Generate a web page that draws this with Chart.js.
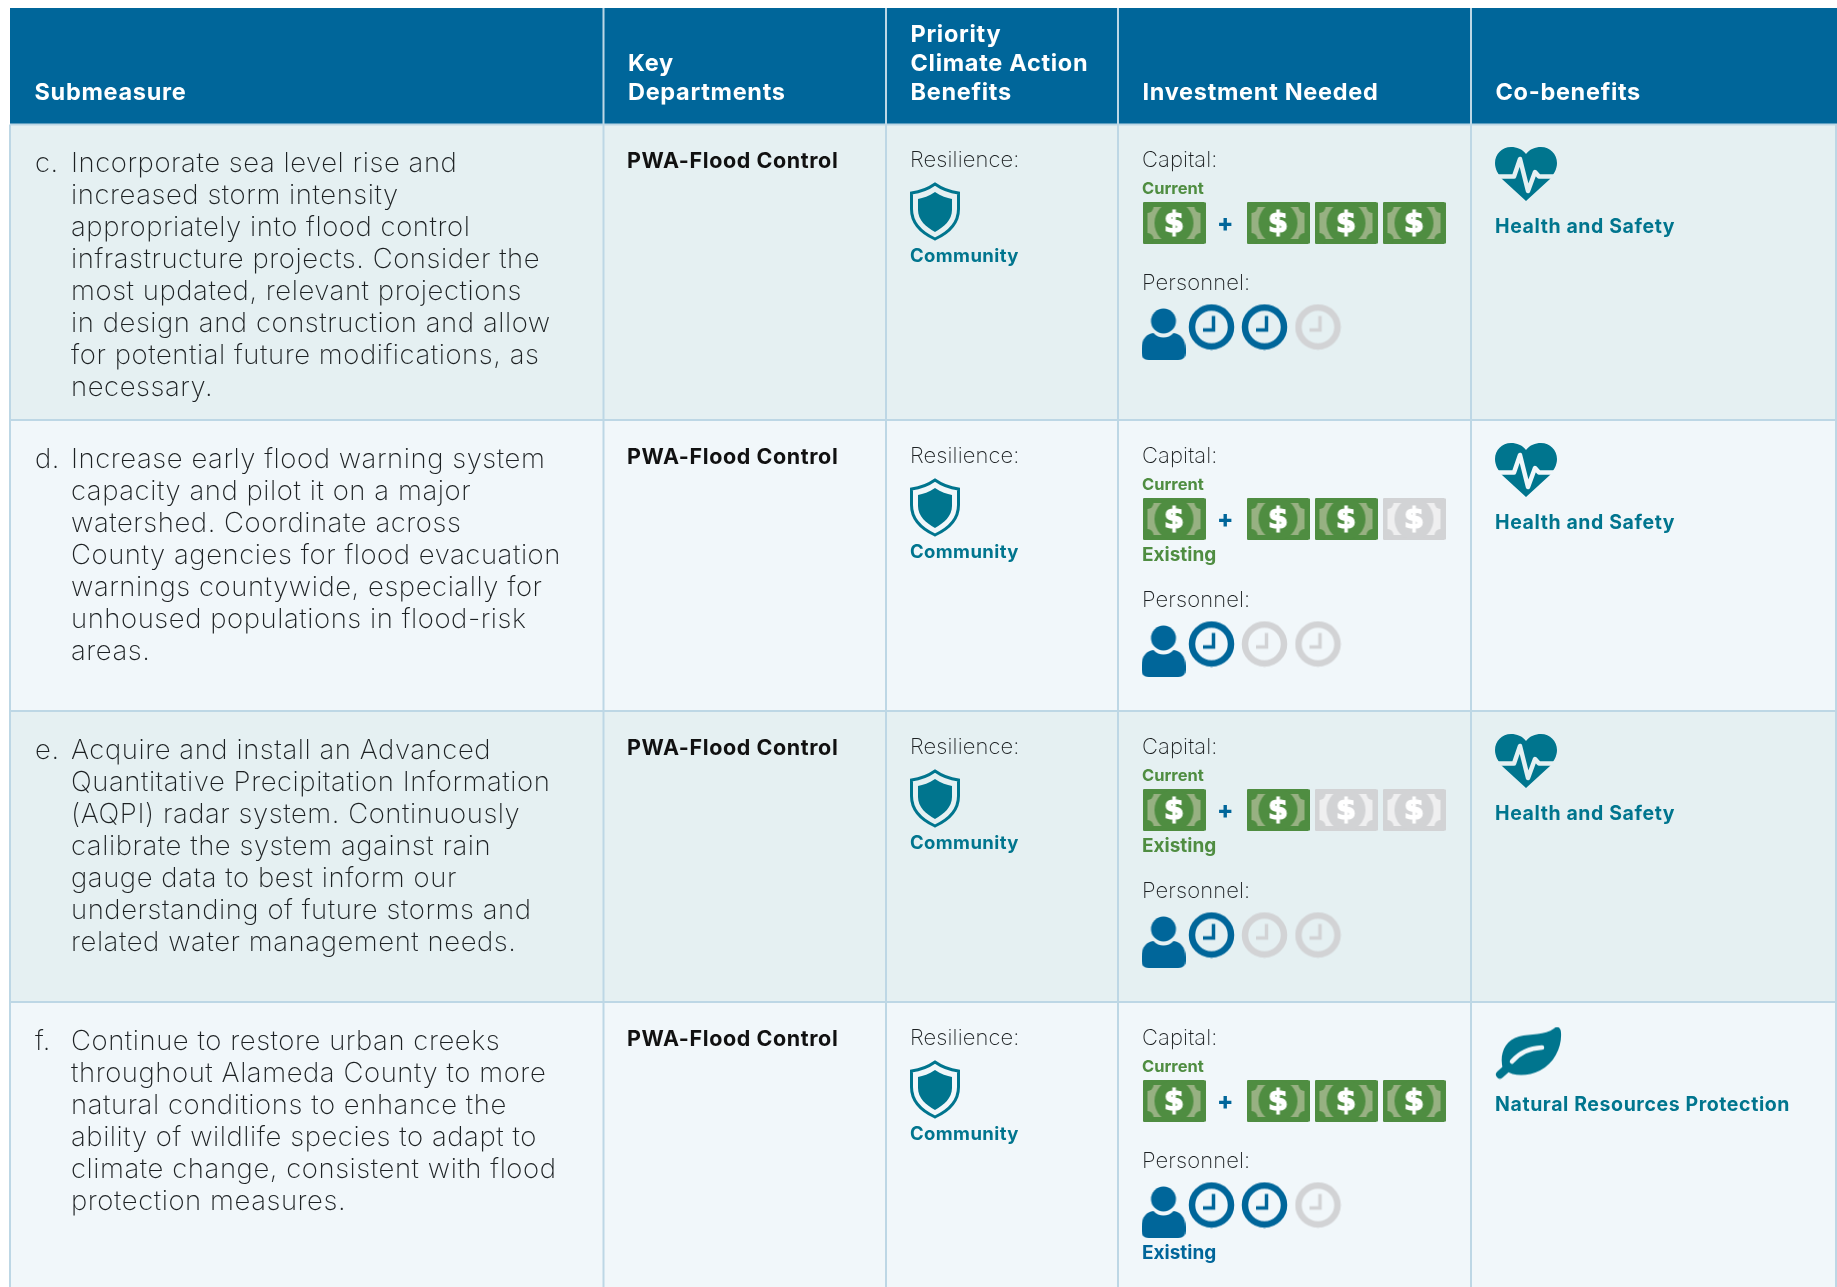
<!DOCTYPE html>
<html>
<head>
<meta charset="utf-8">
<title>Submeasures</title>
<script src="https://cdn.jsdelivr.net/npm/chart.js@4"></script>
<style>
  html, body { margin: 0; padding: 0; background: #fff; }
  canvas { display: block; }
</style>
</head>
<body>
<canvas id="table" width="1837" height="1287"></canvas>
<script>
// ==========================
// Data
// ==========================

const headers = [
    ["Submeasure"],
    ["Key", "Departments"],
    ["Priority", "Climate Action", "Benefits"],
    ["Investment Needed"],
    ["Co-benefits"]
];

const letters = ["c.", "d.", "e.", "f."];

const submeasures = [
    ["Incorporate sea level rise and", "increased storm intensity", "appropriately into flood control",
     "infrastructure projects. Consider the", "most updated, relevant projections",
     "in design and construction and allow", "for potential future modifications, as", "necessary."],
    ["Increase early flood warning system", "capacity and pilot it on a major",
     "watershed. Coordinate across", "County agencies for flood evacuation",
     "warnings countywide, especially for", "unhoused populations in flood-risk", "areas."],
    ["Acquire and install an Advanced", "Quantitative Precipitation Information",
     "(AQPI) radar system. Continuously", "calibrate the system against rain",
     "gauge data to best inform our", "understanding of future storms and",
     "related water management needs."],
    ["Continue to restore urban creeks", "throughout Alameda County to more",
     "natural conditions to enhance the", "ability of wildlife species to adapt to",
     "climate change, consistent with flood", "protection measures."]
];

const departments = ["PWA-Flood Control", "PWA-Flood Control", "PWA-Flood Control", "PWA-Flood Control"];
const benefitTypes = ["Resilience:", "Resilience:", "Resilience:", "Resilience:"];
const benefitNames = ["Community", "Community", "Community", "Community"];
const cobenefits = ["Health and Safety", "Health and Safety", "Health and Safety", "Natural Resources Protection"];

const capitalCurrent = [1, 1, 1, 1];
const capitalFuture = [3, 2, 1, 3];
const capitalTotal = 3;
const personnelFilled = [2, 1, 1, 2];
const personnelTotal = 3;
const capitalExisting = [false, true, true, false];
const personnelExisting = [false, false, false, true];

// ==========================
// Layout
// ==========================

const W = 1837;
const H = 1287;
const FONT = "Inter";

const colX = [10, 603.5, 886, 1118, 1471, 1836];
const rowY = [124.5, 420, 711, 1002, 1287];
const rowTop = [124, 420, 711, 1002];
const headTop = 8;

const MONEY_X = [1174, 1278, 1346, 1414];
const CLOCK_X = [1211.5, 1264.5, 1318];

const COL = {
    head: "#00669a",
    odd: "#e5f0f2",
    even: "#f1f7fa",
    rule: "#bdd7e5",
    ink: "#1d2123",
    teal: "#00758e",
    green: "#4f8d41",
    greenLight: "#97b182",
    blue: "#00669a",
    grey: "#d2d3d5",
    greyLight: "#efeff0"
};

// ==========================
// Icons used as point styles
// ==========================

function icon(w, h, draw) {
    const c = document.createElement("canvas");
    c.width = w;
    c.height = h;
    draw(c.getContext("2d"));
    return c;
}

function moneyIcon(dark, light) {
    return icon(63, 42, g => {
        g.fillStyle = dark;
        g.beginPath();
        g.roundRect(0, 0, 63, 42, 2);
        g.fill();
        g.fillStyle = light;
        g.fillRect(5, 5, 53, 32);
        g.fillStyle = dark;
        [[5, 5], [58, 5], [5, 37], [58, 37]].forEach(p => {
            g.beginPath();
            g.arc(p[0], p[1], 6, 0, Math.PI * 2);
            g.fill();
        });
        g.beginPath();
        g.ellipse(31.5, 21, 19.5, 21, 0, 0, Math.PI * 2);
        g.fill();
        g.fillStyle = "#fff";
        g.strokeStyle = "#fff";
        g.lineWidth = 1.2;
        g.font = "bold 29px 'DejaVu Sans'";
        g.textAlign = "center";
        g.textBaseline = "middle";
        g.fillText("$", 31.5, 22);
        g.strokeText("$", 31.5, 22);
    });
}

function clockIcon(color) {
    return icon(47, 47, g => {
        g.strokeStyle = color;
        g.lineWidth = 6.5;
        g.beginPath();
        g.arc(23.5, 23.5, 19.5, 0, Math.PI * 2);
        g.stroke();
        g.lineWidth = 3.5;
        g.beginPath();
        g.moveTo(15, 26.5);
        g.lineTo(25.5, 26.5);
        g.lineTo(25.5, 12.5);
        g.stroke();
    });
}

const personIcon = icon(44, 52, g => {
    g.fillStyle = COL.blue;
    g.beginPath();
    g.arc(22, 13, 12.5, 0, Math.PI * 2);
    g.fill();
    g.fill(new Path2D("M0 41C0 31 5 26 12 25C17 31 27 31 32 25C39 26 44 31 44 41L44 45Q44 52 37 52L7 52Q0 52 0 45Z"));
});

const shieldIcon = icon(50, 59, g => {
    g.strokeStyle = COL.teal;
    g.fillStyle = COL.teal;
    g.lineWidth = 3;
    g.stroke(new Path2D("M25 2C32 7 41 10 48.5 11L48.5 27C48.5 41 38 51 25 57C12 51 1.5 41 1.5 27L1.5 11C9 10 18 7 25 2Z"));
    g.fill(new Path2D("M25 10C31 14 37 16 42 17L42 28C42 38 34 45 25 50C16 45 8 38 8 28L8 17C13 16 19 14 25 10Z"));
});

const heartIcon = icon(62, 54, g => {
    g.fillStyle = COL.teal;
    g.fill(new Path2D("M31 7C27 2 22 0 16 0C7 0 0 7 0 16C0 22 3 27 7 32L31 54L55 32C59 27 62 22 62 16C62 7 55 0 46 0C40 0 35 2 31 7Z"));
    g.globalCompositeOperation = "destination-out";
    g.lineWidth = 4.5;
    g.lineJoin = "round";
    g.beginPath();
    g.moveTo(-2, 29.5);
    g.lineTo(19, 29.5);
    g.lineTo(25, 12);
    g.lineTo(33, 44);
    g.lineTo(40, 25);
    g.lineTo(44, 29.5);
    g.lineTo(64, 29.5);
    g.stroke();
});

const leafIcon = icon(68, 53, g => {
    g.fillStyle = COL.teal;
    g.strokeStyle = COL.teal;
    g.fill(new Path2D("M8 43C4 29 9 14 24 10C36 7 50 9 59 2C62 -1 66 1 66 6C67 20 60 36 45 44C33 50 18 50 11 44Z"));
    g.lineCap = "round";
    g.lineWidth = 8;
    g.beginPath();
    g.moveTo(5, 48);
    g.lineTo(14, 40);
    g.stroke();
    g.globalCompositeOperation = "destination-out";
    g.lineWidth = 4.5;
    g.beginPath();
    g.moveTo(17, 35);
    g.quadraticCurveTo(28, 22, 47, 21);
    g.stroke();
});

const moneyOn = moneyIcon(COL.green, COL.greenLight);
const moneyOff = moneyIcon(COL.grey, COL.greyLight);
const clockOn = clockIcon(COL.blue);
const clockOff = clockIcon(COL.grey);

// ==========================
// Points built from the data
// ==========================

const moneyY = i => rowTop[i] + 99;
const clockY = i => moneyY(i) + (capitalExisting[i] ? 125 : 104);

const moneyOnPts = [];
const moneyOffPts = [];
const clockOnPts = [];
const clockOffPts = [];

letters.forEach((_, i) => {
    for (let s = 0; s < capitalCurrent[i]; s++) {
        moneyOnPts.push({ x: MONEY_X[s], y: moneyY(i) });
    }
    for (let s = 0; s < capitalTotal; s++) {
        (s < capitalFuture[i] ? moneyOnPts : moneyOffPts).push({ x: MONEY_X[s + 1], y: moneyY(i) });
    }
    for (let s = 0; s < personnelTotal; s++) {
        (s < personnelFilled[i] ? clockOnPts : clockOffPts).push({ x: CLOCK_X[s], y: clockY(i) });
    }
});

const personPts = letters.map((_, i) => ({ x: 1163.5, y: clockY(i) + 7 }));
const shieldPts = letters.map((_, i) => ({ x: 935, y: rowTop[i] + 87.5 }));
const coPts = cobenefits.filter(n => n.startsWith("Health")).map((_, i) => ({ x: 1526, y: rowTop[i] + 50 }));
const leafPts = cobenefits.map((n, i) => ({ n, i })).filter(o => o.n.startsWith("Natural"))
    .map(o => ({ x: 1529, y: rowTop[o.i] + 51 }));

function iconSet(label, data, image) {
    return { label, data, pointStyle: image, pointRadius: 10, showLine: false, clip: false };
}

// ==========================
// Grid and text
// ==========================

function put(g, text, x, y, font, color, spacing) {
    g.font = font;
    g.fillStyle = color;
    g.letterSpacing = (spacing || 0) + "px";
    g.fillText(text, x, y);
}

const tablePlugin = {
    id: "tablePlugin",
    beforeDatasetsDraw(chart) {
        const g = chart.ctx;
        const sx = chart.scales.x;
        const sy = chart.scales.y;
        const left = sx.getPixelForValue(colX[0]);
        const right = sx.getPixelForValue(W);

        g.save();
        g.fillStyle = COL.head;
        g.fillRect(left, sy.getPixelForValue(headTop), right - left, sy.getPixelForValue(rowY[0]) - headTop);

        letters.forEach((_, i) => {
            g.fillStyle = i % 2 ? COL.even : COL.odd;
            g.fillRect(left, sy.getPixelForValue(rowY[i]), right - left, rowY[i + 1] - rowY[i]);
        });

        g.strokeStyle = COL.rule;
        g.lineWidth = 2;
        colX.forEach(x => {
            g.beginPath();
            g.moveTo(sx.getPixelForValue(x), sy.getPixelForValue(x === colX[0] || x === colX[5] ? rowY[0] : headTop));
            g.lineTo(sx.getPixelForValue(x), sy.getPixelForValue(H));
            g.stroke();
        });
        rowY.slice(0, 4).forEach(y => {
            g.beginPath();
            g.moveTo(left, sy.getPixelForValue(y));
            g.lineTo(right, sy.getPixelForValue(y));
            g.stroke();
        });
        g.restore();
    },
    afterDatasetsDraw(chart) {
        const g = chart.ctx;
        const body = "250 27.5px " + FONT;
        const label = "250 22px " + FONT;
        const bold = "700 21.5px " + FONT;
        const link = "700 19.5px " + FONT;

        g.save();
        g.textBaseline = "alphabetic";
        g.textAlign = "left";

        headers.forEach((lines, c) => {
            lines.forEach((line, l) => {
                const y = 99.5 - (lines.length - 1 - l) * 28.7;
                put(g, line, colX[c] + 24.5, y, "700 23.5px " + FONT, "#ffffff", 0.7);
            });
        });

        letters.forEach((letter, i) => {
            const top = rowTop[i];
            const first = top + 48;
            put(g, letter, 35, first, body, COL.ink, 0.55);
            submeasures[i].forEach((line, l) => {
                put(g, line, 71, first + l * 31.95, body, COL.ink, 0.55);
            });

            put(g, departments[i], 627, top + 43.5, bold, "#111111", 0.6);
            put(g, benefitTypes[i], 910, top + 43, label, COL.ink, 0.1);
            put(g, benefitNames[i], 910, top + 138, "700 18.5px " + FONT, COL.teal, 0.4);
            put(g, "Capital:", 1142, top + 43, label, COL.ink, 0.1);
            put(g, "Current", 1142, moneyY(i) - 29, "700 16.5px " + FONT, COL.green, 0);
            put(g, "+", 1217, moneyY(i) + 8, "800 24px " + FONT, COL.blue, 0);
            if (capitalExisting[i]) {
                put(g, "Existing", 1142, moneyY(i) + 42, "700 19px " + FONT, COL.green, 0);
            }
            put(g, "Personnel:", 1142, clockY(i) - 37.5, label, COL.ink, 0.1);
            if (personnelExisting[i]) {
                put(g, "Existing", 1142, clockY(i) + 53.5, "700 19px " + FONT, COL.blue, 0);
            }
            put(g, cobenefits[i], 1495, top + 108.5, link, COL.teal, 0.6);
        });
        g.restore();
    }
};

// ==========================
// Chart
// ==========================

new Chart(document.getElementById("table"), {
    type: "scatter",
    data: {
        datasets: [
            iconSet("Capital funded", moneyOnPts, moneyOn),
            iconSet("Capital not funded", moneyOffPts, moneyOff),
            iconSet("Personnel time", clockOnPts, clockOn),
            iconSet("Personnel time open", clockOffPts, clockOff),
            iconSet("Personnel", personPts, personIcon),
            iconSet("Community", shieldPts, shieldIcon),
            iconSet("Health and Safety", coPts, heartIcon),
            iconSet("Natural Resources Protection", leafPts, leafIcon)
        ]
    },
    options: {
        responsive: false,
        animation: false,
        events: [],
        layout: { padding: 0, autoPadding: false },
        plugins: {
            legend: { display: false },
            tooltip: { enabled: false }
        },
        scales: {
            x: { type: "linear", display: false, min: 0, max: W },
            y: { type: "linear", display: false, reverse: true, min: 0, max: H }
        }
    },
    plugins: [tablePlugin]
});
</script>
</body>
</html>
